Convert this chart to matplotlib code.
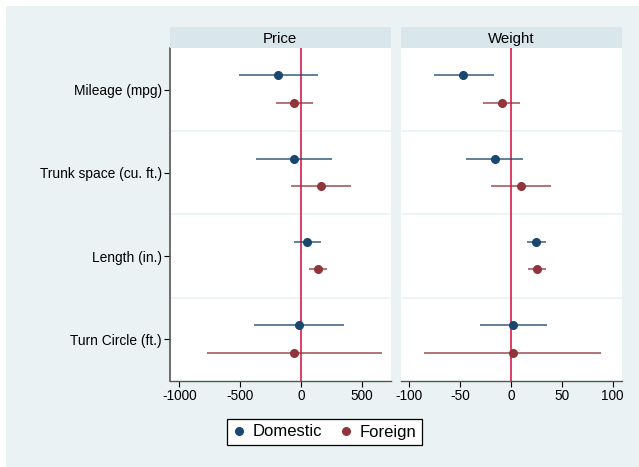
import matplotlib
matplotlib.use("Agg")
import matplotlib.pyplot as plt
from matplotlib.lines import Line2D
from matplotlib.patches import Rectangle

plt.rcParams['font.family'] = ['Liberation Sans', 'DejaVu Sans']

categories = ["Mileage (mpg)", "Trunk space (cu. ft.)", "Length (in.)", "Turn Circle (ft.)"]
panels = ["Price", "Weight"]

# coefficient, lower CI, upper CI per category
price_dom = [-190, -60, 52, -17]
price_dom_lo = [-514, -368, -55, -385]
price_dom_hi = [140, 250, 164, 354]
price_for = [-55, 162, 137, -58]
price_for_lo = [-206, -83, 63, -775]
price_for_hi = [96, 406, 214, 667]

weight_dom = [-47, -16, 25, 2.6]
weight_dom_lo = [-76, -44, 16, -30.5]
weight_dom_hi = [-17, 11.5, 35, 36]
weight_for = [-9, 9.5, 26, 1.7]
weight_for_lo = [-27, -20, 17, -85]
weight_for_hi = [9, 39, 35, 89]

navy = "#1A476F"
maroon = "#90353B"
bg = "#EAF2F3"
strip = "#D9E6EB"

fig = plt.figure(figsize=(6.39, 4.67), dpi=100, facecolor="white")
fig.patches.append(Rectangle((6/639, 0), 1, 1 - 6/467, transform=fig.transFigure,
                             facecolor=bg, edgecolor="none", zorder=-10))

data = {
    "Price": ((price_dom, price_dom_lo, price_dom_hi), (price_for, price_for_lo, price_for_hi),
              (-1077, 736), [-1000, -500, 0, 500]),
    "Weight": ((weight_dom, weight_dom_lo, weight_dom_hi), (weight_for, weight_for_lo, weight_for_hi),
               (-108, 109), [-100, -50, 0, 50, 100]),
}

lefts = [170/639, 401/639]
w = 220.7/639
for i, name in enumerate(panels):
    ax = fig.add_axes([lefts[i], (467-381)/467, w, 333/467])
    ax.set_facecolor("white")
    dom, fo, xlim, xt = data[name]
    pos = [1, 2, 3, 4]
    for y in [1.5, 2.5, 3.5]:
        ax.axhline(y, color=bg, lw=1.2, zorder=1)
    ax.axvline(0, color="#D6083B", lw=1.1, zorder=2)
    for series, col, off in [(dom, navy, -0.17), (fo, maroon, 0.16)]:
        c, lo, hi = series
        ys = [p + off for p in pos]
        ax.hlines(ys, lo, hi, color=col, lw=1.3, alpha=0.75, zorder=3)
        ax.plot(c, ys, "o", color=col, ms=5.5, zorder=4)
    ax.set_xlim(*xlim)
    ax.set_ylim(4.5, 0.5)
    ax.set_xticks(xt)
    ax.set_xticklabels([str(t) for t in xt], fontsize=9.8)
    ax.tick_params(axis="x", direction="out", length=4, width=0.8, pad=2)
    for s in ["top", "right"]:
        ax.spines[s].set_visible(False)
    ax.spines["bottom"].set_color("#555555")
    ax.spines["bottom"].set_linewidth(1)
    if i == 0:
        ax.set_yticks(pos)
        ax.set_yticklabels(categories, fontsize=9.9)
        ax.tick_params(axis="y", direction="out", length=4, width=0.8, pad=2)
        ax.spines["left"].set_color("#555555")
        ax.spines["left"].set_linewidth(1.2)
    else:
        ax.set_yticks([])
        ax.spines["left"].set_visible(False)

    sax = fig.add_axes([lefts[i], (467-48)/467, w, 21/467])
    sax.set_facecolor(strip)
    sax.set_xticks([])
    sax.set_yticks([])
    for s in sax.spines.values():
        s.set_visible(False)
    sax.text(0.5, 0.45, name, ha="center", va="center", fontsize=10.8, transform=sax.transAxes)

handles = [Line2D([], [], marker="o", ls="none", color=navy, ms=5.5, label="Domestic"),
           Line2D([], [], marker="o", ls="none", color=maroon, ms=5.5, label="Foreign")]
leg = fig.legend(handles=handles, loc="center", bbox_to_anchor=(324.5/639, 1 - 432/467),
                 ncol=2, fontsize=12, frameon=True, fancybox=False, edgecolor="black",
                 framealpha=1, handlelength=0.7, handletextpad=0.45, columnspacing=1.1,
                 borderpad=0.35)
leg.get_frame().set_linewidth(0.9)

fig.savefig("out.png", dpi=100, facecolor=fig.get_facecolor())
